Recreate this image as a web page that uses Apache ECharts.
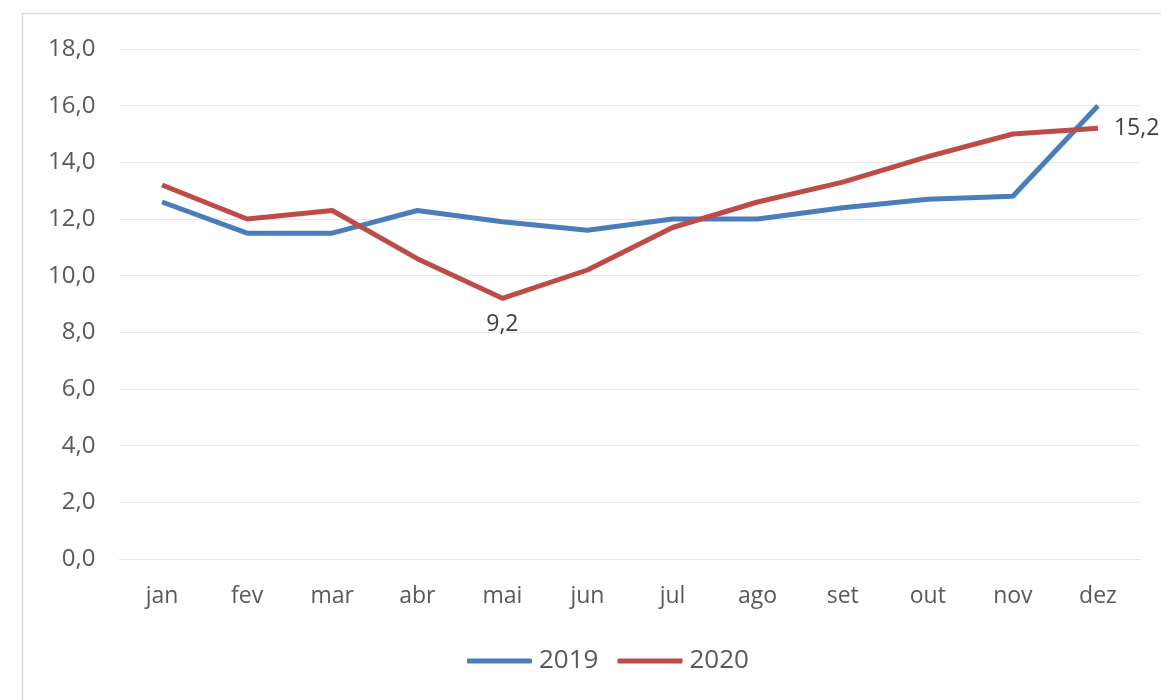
<!DOCTYPE html>
<html>
<head>
<meta charset="utf-8">
<script src="https://cdn.jsdelivr.net/npm/echarts@6/dist/echarts.min.js"></script>
<style>
html,body{margin:0;padding:0;background:#fff;}
#main{width:1161px;height:700px;}
</style>
</head>
<body>
<div id="main"></div>
<script>
const months = ['jan','fev','mar','abr','mai','jun','jul','ago','set','out','nov','dez'];
const s2019 = [12.6, 11.5, 11.5, 12.3, 11.9, 11.6, 12.0, 12.0, 12.4, 12.7, 12.8, 16.0];
const s2020 = [13.2, 12.0, 12.3, 10.6, 9.2, 10.2, 11.7, 12.6, 13.3, 14.2, 15.0, 15.2];
const yTicks = [0, 2, 4, 6, 8, 10, 12, 14, 16, 18];

const fmt = v => Number(v).toFixed(1).replace('.', ',');
const font = '"Open Sans", "Noto Sans", sans-serif';

const chart = echarts.init(document.getElementById('main'));
chart.setOption({
  animation: false,
  backgroundColor: '#fff',
  graphic: [{
    type: 'rect',
    shape: {x: 22.5, y: 13.5, width: 1200, height: 800},
    style: {fill: 'none', stroke: '#d9d9d9', lineWidth: 1.5},
    silent: true
  }],
  grid: {left: 119.5, right: 20.5, top: 49, bottom: 141},
  legend: {
    top: 643,
    left: 462,
    itemWidth: 65,
    itemHeight: 5,
    itemGap: 19,
    icon: 'roundRect',
    textStyle: {fontFamily: font, fontSize: 26, color: '#595959', padding: [0, 0, 0, 2]},
    data: ['2019', '2020']
  },
  xAxis: {
    type: 'category',
    data: months,
    boundaryGap: true,
    axisLine: {show: true, lineStyle: {color: '#e6e6e6', width: 1}},
    axisTick: {show: false},
    axisLabel: {fontFamily: font, fontSize: 23, color: '#595959', margin: 26}
  },
  yAxis: {
    type: 'value',
    min: yTicks[0],
    max: yTicks[yTicks.length - 1],
    interval: 2,
    axisLine: {show: false},
    axisTick: {show: false},
    splitLine: {lineStyle: {color: '#e6e6e6', width: 1}},
    axisLabel: {fontFamily: font, fontSize: 24, color: '#595959', margin: 24, formatter: fmt}
  },
  series: [
    {
      name: '2019',
      type: 'line',
      data: s2019,
      symbol: 'none',
      lineStyle: {color: '#4a7ebb', width: 5},
      itemStyle: {color: '#4a7ebb'}
    },
    {
      name: '2020',
      type: 'line',
      data: s2020.map((v, i) => {
        if (i === 4) return {value: v, label: {show: true, position: 'bottom', distance: 15}};
        if (i === 11) return {value: v, label: {show: true, position: 'right', distance: 16}};
        return v;
      }),
      symbol: 'circle',
      symbolSize: 0,
      showSymbol: true,
      label: {show: false, fontFamily: font, fontSize: 23, color: '#404040', formatter: p => fmt(p.value)},
      lineStyle: {color: '#be4b48', width: 5},
      itemStyle: {color: '#be4b48'}
    }
  ]
});
</script>
</body>
</html>
